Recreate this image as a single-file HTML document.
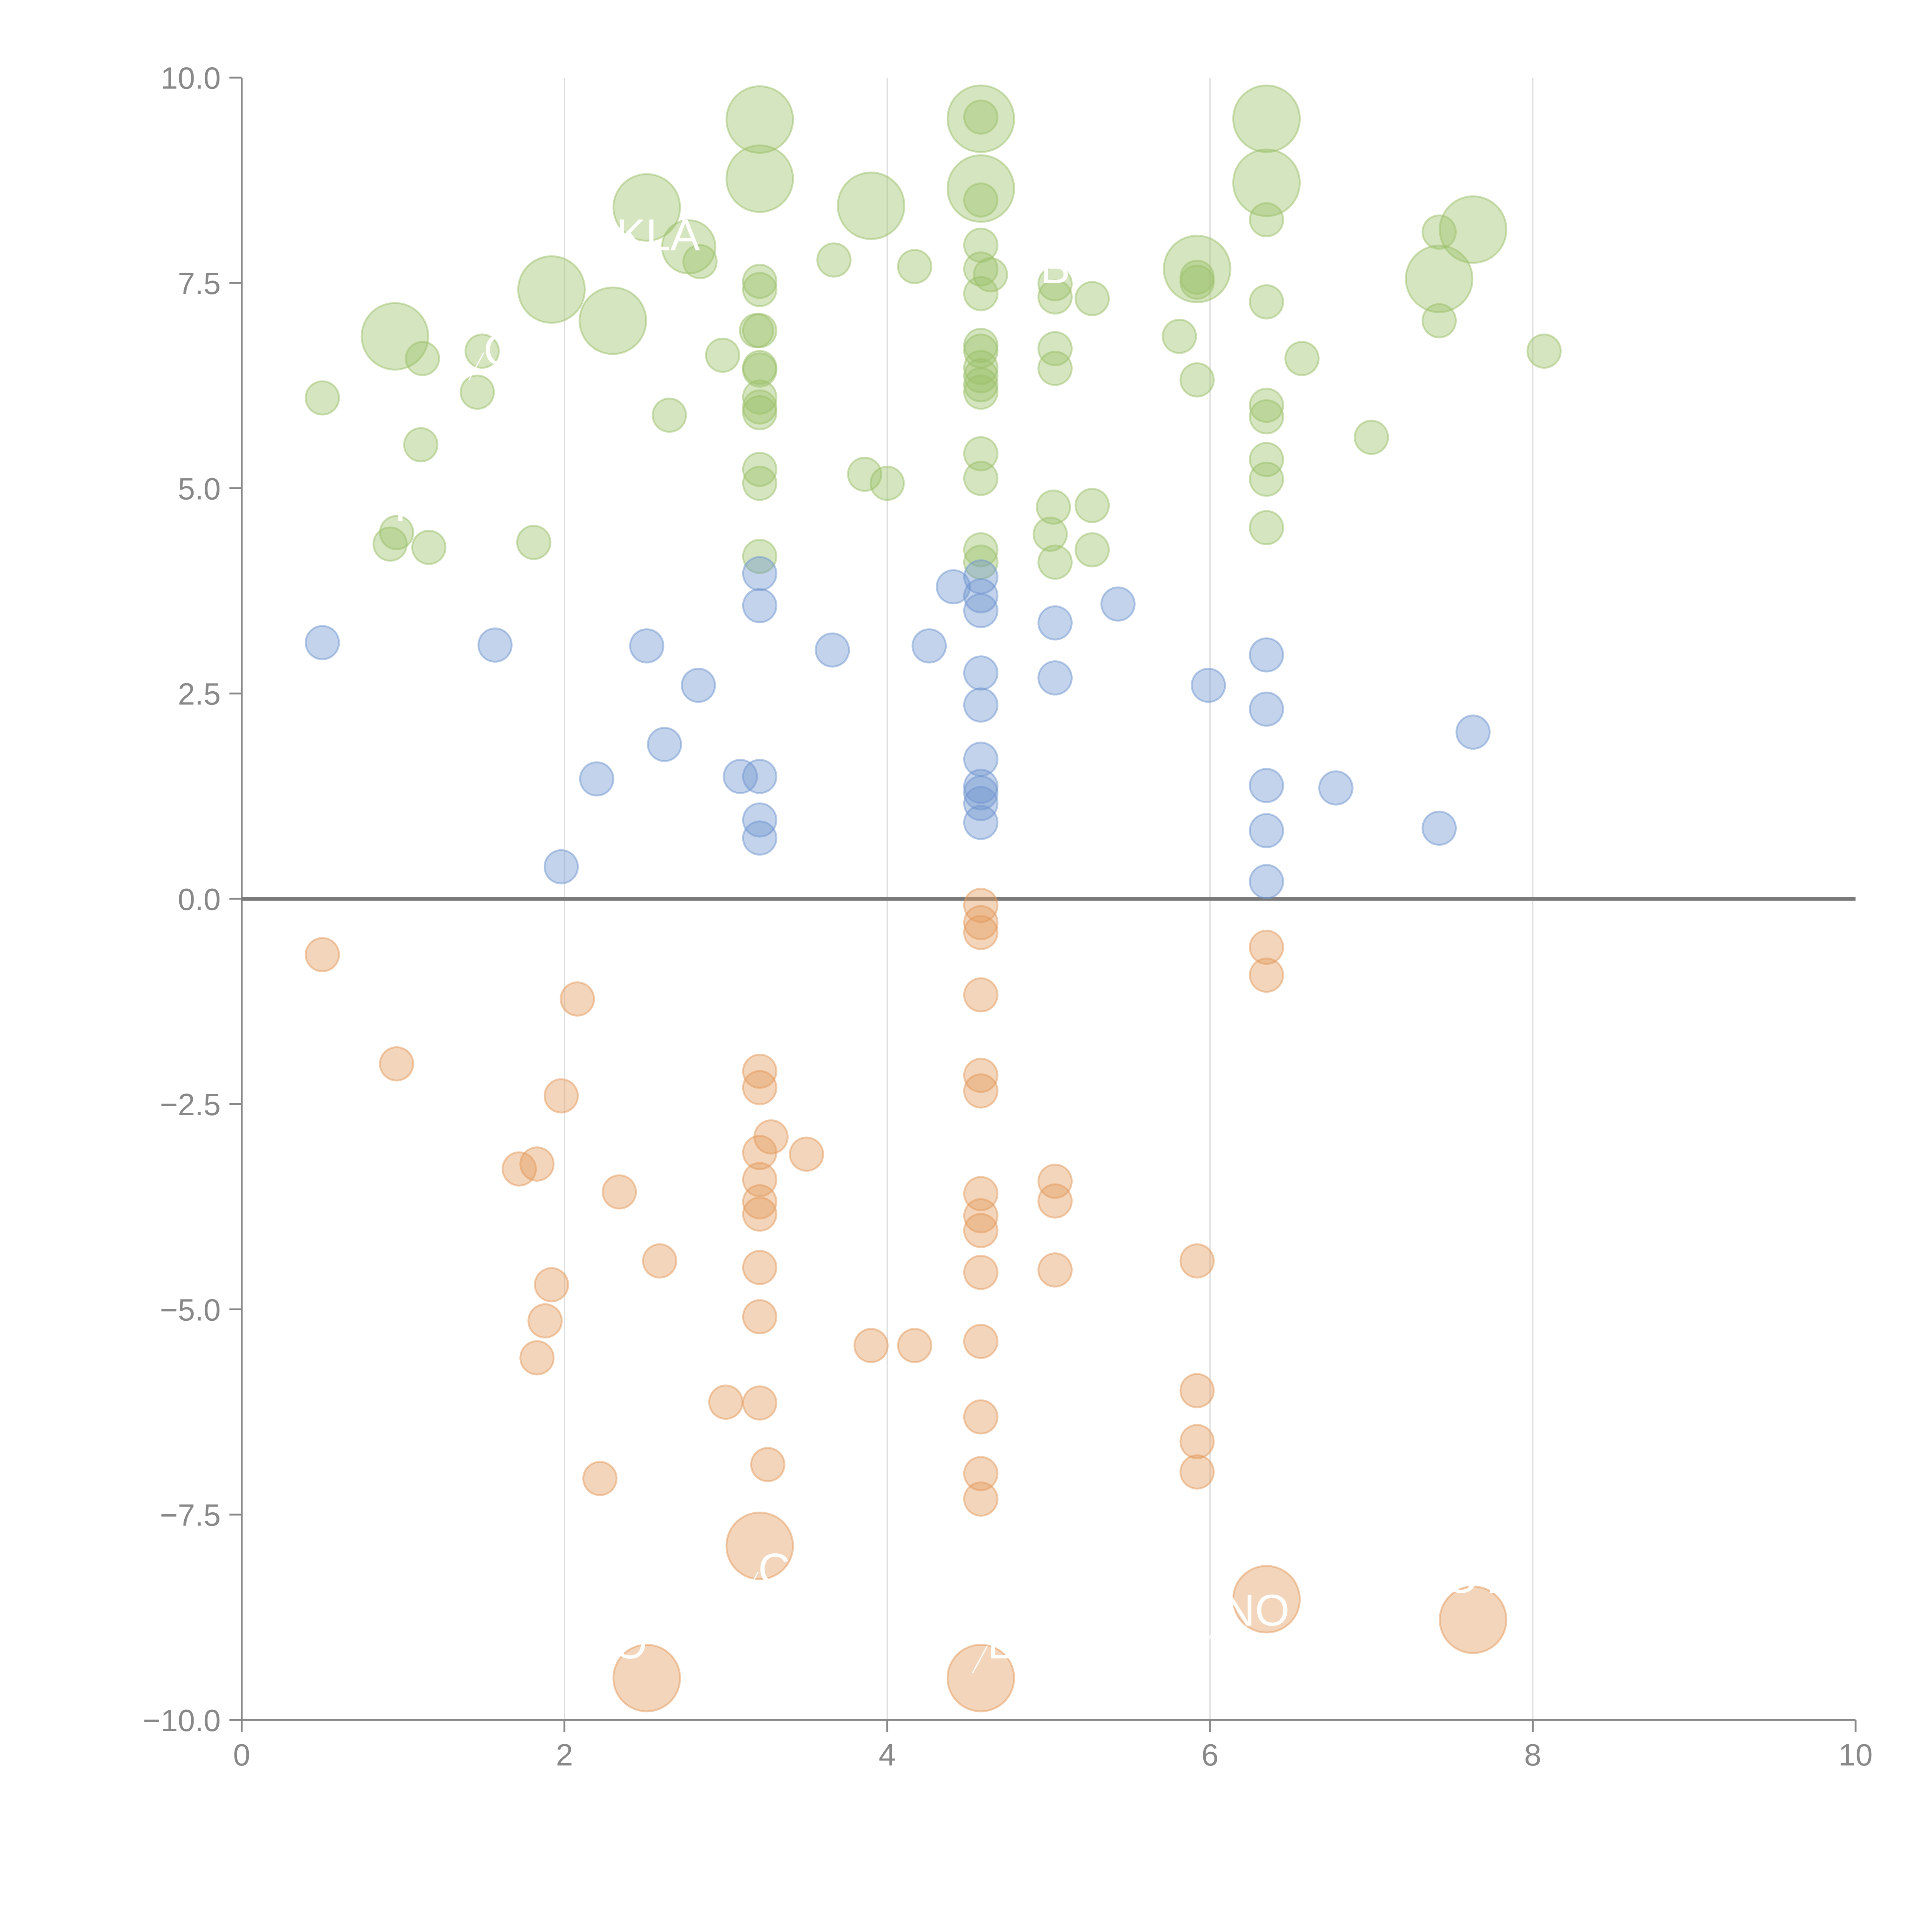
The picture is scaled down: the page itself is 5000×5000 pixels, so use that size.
<!DOCTYPE html>
<html><head><meta charset="utf-8"><style>
html,body{margin:0;padding:0;background:#fff;}
svg{display:block;}
text{font-family:"Liberation Sans",sans-serif;}
</style></head><body>
<svg id="chart" width="5000" height="5000" viewBox="0 0 1567 1567" xmlns="http://www.w3.org/2000/svg">
<g id="grid"></g>
<g id="axes"></g>
<g id="marks"></g>
<g id="labels"></g>
</svg>
<script>
const xTicks=[0,2,4,6,8,10];
const yTicks=[-10,-7.5,-5,-2.5,0,2.5,5,7.5,10];
const yTickLabels=["\u221210.0","\u22127.5","\u22125.0","\u22122.5","0.0","2.5","5.0","7.5","10.0"];
const greenX=[0.50,1.12,1.11,1.49,1.46,0.92,0.96,1.16,1.81,2.65,2.84,2.98,3.21,3.21,3.21,3.19,3.21,3.21,3.21,3.21,3.21,3.21,3.21,3.21,3.67,4.17,3.86,4.00,4.58,4.58,4.58,4.58,4.58,4.64,4.58,4.58,4.58,4.58,4.58,4.58,4.58,4.58,4.58,4.58,5.04,5.04,5.04,5.04,5.03,5.01,5.04,5.27,5.27,5.27,5.81,5.92,5.92,5.92,6.35,6.35,6.35,6.35,6.35,6.35,6.35,6.57,7.00,7.42,7.42,8.07,3.21,3.21,2.51,3.90,4.58,4.58,6.35,6.35,1.92,2.30,0.95,5.92,7.42,7.63,2.77];
const greenY=[6.10,6.58,5.53,6.67,6.17,4.32,4.46,4.28,4.34,5.89,7.76,6.62,7.52,7.42,6.92,6.92,6.47,6.44,6.11,5.99,5.92,5.23,5.06,4.17,7.78,7.70,5.17,5.06,9.52,8.51,7.96,7.67,7.37,7.60,6.74,6.67,6.47,6.37,6.26,6.17,5.42,5.12,4.25,4.10,7.49,7.33,6.70,6.46,4.77,4.44,4.10,7.31,4.79,4.25,6.85,7.57,7.51,6.32,8.27,7.27,6.01,5.87,5.35,5.11,4.52,6.58,5.62,8.12,7.04,6.67,9.49,8.77,8.42,8.44,9.50,8.65,9.50,8.72,7.42,7.04,6.85,7.67,7.55,8.15,7.94];
const greenSize=[1,1,1,1,1,1,1,1,1,1,1,1,1,1,1,1,1,1,1,1,1,1,1,1,1,1,1,1,1,1,1,1,1,1,1,1,1,1,1,1,1,1,1,1,1,1,1,1,1,1,1,1,1,1,1,1,1,1,1,1,1,1,1,1,1,1,1,1,1,1,2,2,2,2,2,2,2,2,2,2,2,2,2,2,1.6];
const blueX=[0.50,1.57,2.51,2.83,2.62,2.20,1.98,3.09,3.21,3.21,3.21,3.21,3.21,3.66,4.26,4.41,4.58,4.58,4.58,4.58,4.58,4.58,4.58,4.58,4.58,4.58,5.04,5.04,5.43,5.99,6.35,6.35,6.35,6.35,6.35,6.78,7.42,7.63];
const blueY=[3.12,3.09,3.08,2.60,1.88,1.46,0.39,1.49,1.49,3.96,3.57,0.96,0.74,3.03,3.08,3.80,3.92,3.69,3.51,2.75,2.36,1.70,1.37,1.29,1.16,0.93,3.36,2.69,3.59,2.60,2.97,2.31,1.38,0.83,0.21,1.35,0.86,2.03];
const orangeX=[0.50,0.96,2.08,1.98,1.72,1.83,2.34,2.59,1.92,1.88,1.83,2.22,3.21,3.21,3.28,3.21,3.50,3.21,3.21,3.21,3.21,3.21,3.00,3.21,3.26,3.90,4.17,4.58,4.58,4.58,4.58,4.58,4.58,4.58,4.58,4.58,4.58,4.58,4.58,4.58,4.58,5.04,5.04,5.04,5.92,5.92,5.92,5.92,6.35,6.35,3.21,2.51,4.58,6.35,7.63];
const orangeY=[-0.68,-2.01,-1.22,-2.40,-3.29,-3.23,-3.57,-4.41,-4.70,-5.14,-5.59,-7.06,-2.10,-2.30,-2.90,-3.09,-3.11,-3.42,-3.69,-3.84,-4.49,-5.09,-6.13,-6.14,-6.89,-5.44,-5.44,-0.08,-0.29,-0.41,-1.17,-2.15,-2.34,-3.59,-3.86,-4.04,-4.55,-5.39,-6.31,-7.00,-7.31,-3.44,-3.68,-4.52,-4.41,-5.99,-6.61,-6.98,-0.59,-0.93,-7.88,-9.49,-9.49,-8.53,-8.78];
const orangeSize=[1,1,1,1,1,1,1,1,1,1,1,1,1,1,1,1,1,1,1,1,1,1,1,1,1,1,1,1,1,1,1,1,1,1,1,1,1,1,1,1,1,1,1,1,1,1,1,1,1,1,2,2,2,2,2];
const labelText=["KLA","B","O","TL","C","NO","O","L","OT"];
const labelX=[2.32,4.95,1.50,0.90,3.20,6.08,2.30,4.62,7.45];
const labelY=[7.90,7.50,6.50,4.60,-8.35,-8.85,-9.25,-9.25,-8.45];

const NS="http://www.w3.org/2000/svg";
const X0=196,X1=1505,Y0=1395,Y1=63;
function sx(v){return X0+(v-0)/(10-0)*(X1-X0);}
function sy(v){return Y0-(v+10)/20*(Y0-Y1);}
function mk(tag,attrs,parent){const e=document.createElementNS(NS,tag);for(const k in attrs)e.setAttribute(k,attrs[k]);parent.appendChild(e);return e;}
const grid=document.getElementById('grid'),axes=document.getElementById('axes'),marks=document.getElementById('marks'),labels=document.getElementById('labels');
xTicks.forEach(t=>{
  if(t>0&&t<10){const g=mk('line',{x1:sx(t),x2:sx(t),y1:Y1,y2:Y0,stroke:'#dddddd','stroke-width':1},grid);
  
  }
  const tk=mk('line',{x1:sx(t),x2:sx(t),y1:Y0,y2:Y0+10,stroke:'#888','stroke-width':1.5},axes);
  
  
  const tl=mk('text',{x:sx(t),y:Y0+37,'text-anchor':'middle','font-size':25,fill:'#888'},axes);
  tl.textContent=String(t);
  
  
});
yTicks.forEach((t,i)=>{
  const tk=mk('line',{x1:X0-10,x2:X0,y1:sy(t),y2:sy(t),stroke:'#888','stroke-width':1.5},axes);
  
  
  const tl=mk('text',{x:X0-17,y:sy(t)+9,'text-anchor':'end','font-size':25,fill:'#888'},axes);
  tl.textContent=yTickLabels[i];
  
  
});
const ya=mk('line',{x1:X0,x2:X0,y1:Y1,y2:Y0,stroke:'#888','stroke-width':1.5},axes);


const xa=mk('line',{x1:X0,x2:X1,y1:Y0,y2:Y0,stroke:'#888','stroke-width':1.5},axes);


const zl=mk('line',{x1:X0,x2:X1,y1:sy(0),y2:sy(0),stroke:'#7a7a7a','stroke-width':3},axes);


function series(xs,ys,ss,color,name){
  xs.forEach((x,i)=>{
    const c=mk('circle',{cx:sx(x),cy:sy(ys[i]),r:13.5*(ss?ss[i]:1),fill:color,'fill-opacity':0.42,stroke:color,'stroke-opacity':0.5,'stroke-width':1.5},marks);
    
    
  });
}
series(greenX,greenY,greenSize,'#9cc06a','green-bubble');
series(blueX,blueY,null,'#6f96cf','blue-bubble');
series(orangeX,orangeY,orangeSize,'#e39a5c','orange-bubble');
labelText.forEach((s,i)=>{
  const t=mk('text',{x:sx(labelX[i]),y:sy(labelY[i]),'font-size':36,fill:'#ffffff'},labels);
  t.textContent=s;
  
  
  const ln=mk('line',{x1:sx(labelX[i]),y1:sy(labelY[i])-10,x2:sx(labelX[i])-12,y2:sy(labelY[i])+12,stroke:'#ffffff','stroke-width':1},labels);
  
  
});
</script>
</body></html>
